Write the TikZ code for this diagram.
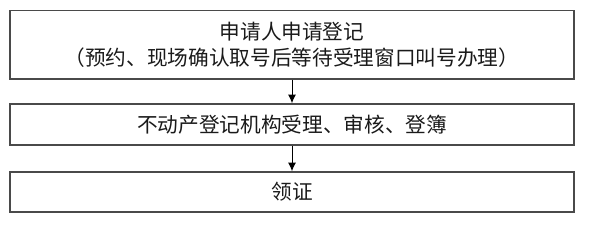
\documentclass[tikz,border=0pt]{standalone}
\usepackage{fontspec}
\setmainfont{Noto Sans CJK SC}
\usetikzlibrary{arrows.meta}
\definecolor{boxline}{HTML}{4A4A4A}
\definecolor{txt}{HTML}{1A1A1A}
\tikzset{
  stepbox/.style={draw=boxline, line width=1.1pt, minimum width=564*0.75pt, inner sep=0pt,
    text=txt, font=\fontsize{15.5pt}{19.5pt}\selectfont, align=center},
  flow/.style={draw=black, line width=0.75pt, -{Latex[length=6.5pt,width=6pt]}}
}
\begin{document}
\begin{tikzpicture}[x=0.75pt,y=-0.75pt]
\useasboundingbox (0,0) rectangle (600,234);
\node[stepbox, minimum height=68.5*0.75pt] (a) at (292,44.75) {申请人申请登记\\（预约、现场确认取号后等待受理窗口叫号办理）};
\node[stepbox, minimum height=41*0.75pt] (b) at (292,124.5) {不动产登记机构受理、审核、登簿};
\node[stepbox, minimum height=40*0.75pt] (c) at (292,192) {领证};
\draw[flow] (a) -- (b);
\draw[flow] (b) -- (c);
\end{tikzpicture}
\end{document}
